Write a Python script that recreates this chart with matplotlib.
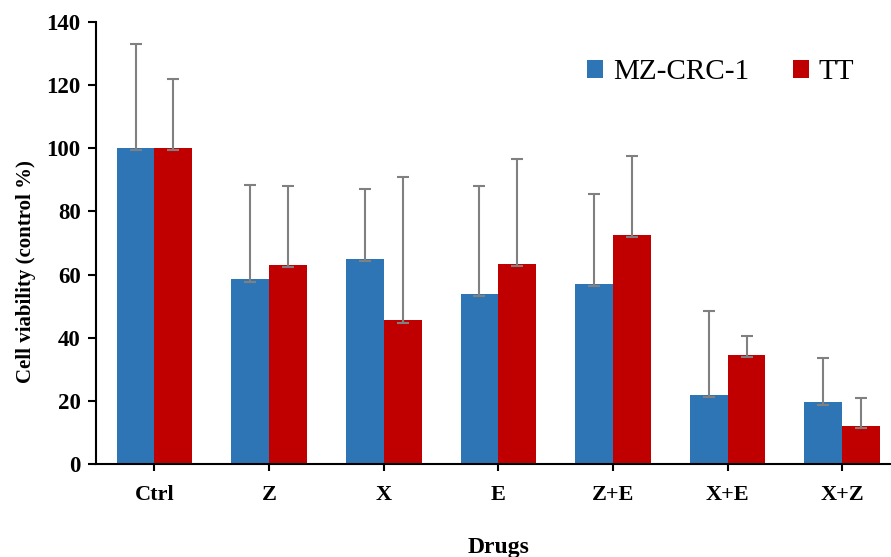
import numpy as np
import matplotlib
matplotlib.use("Agg")
import matplotlib.pyplot as plt

plt.rcParams['font.family'] = ['Liberation Serif', 'DejaVu Serif']

# Данные
drugs = ['Ctrl', 'Z', 'X', 'E', 'Z+E', 'X+E', 'X+Z']
mz_crc1 = [100, 58.5, 65, 54, 57, 22, 19.5]
mz_crc1_top = [133, 88.5, 87, 88, 85.5, 48.5, 33.5]
tt = [100, 63, 45.5, 63.5, 72.5, 34.5, 12]
tt_top = [122, 88, 91, 96.5, 97.5, 40.5, 21]

blue = '#2E75B6'
red = '#C00000'

fig = plt.figure(figsize=(8.91, 5.57), dpi=100)
ax = fig.add_axes([0.1077, 0.167, 0.8923, 0.7935])

x = np.arange(len(drugs))
width = 0.33

err_blue = [np.full(len(drugs), 0.7), np.array(mz_crc1_top) - np.array(mz_crc1)]
err_red = [np.full(len(drugs), 0.7), np.array(tt_top) - np.array(tt)]
ekw = dict(ecolor='#808080', elinewidth=1.5, capsize=4, capthick=1.5)

ax.bar(x - width / 2, mz_crc1, width, color=blue, label='MZ-CRC-1', yerr=err_blue, error_kw=ekw)
ax.bar(x + width / 2, tt, width, color=red, label='TT', yerr=err_red, error_kw=ekw)

ax.set_xlim(-0.51, 6.425)
ax.set_ylim(0, 140)
ax.set_yticks(np.arange(0, 141, 20))
ax.set_xticks(x)
ax.set_xticklabels(drugs, fontsize=16, fontweight='bold')
for lbl in ax.get_yticklabels():
    lbl.set_fontsize(16.5)
    lbl.set_fontweight('bold')

ax.spines['top'].set_visible(False)
ax.spines['right'].set_visible(False)
ax.spines['left'].set_linewidth(1.5)
ax.spines['bottom'].set_linewidth(1.5)
ax.tick_params(axis='y', direction='out', length=6, width=1.5, pad=5)
ax.tick_params(axis='x', direction='out', length=5, width=1.5, pad=10)

ax.set_ylabel('Cell viability (control %)', fontsize=15, fontweight='bold')
ax.yaxis.set_label_coords(-0.075, 0.435)
ax.set_xlabel('Drugs', fontsize=17, fontweight='bold')
ax.xaxis.set_label_coords(0.506, -0.165)

ax.legend(loc='upper right', bbox_to_anchor=(0.987, 0.975), ncol=2, frameon=False,
          fontsize=21, handlelength=0.55, handleheight=0.55, handletextpad=0.35,
          columnspacing=1.5)

plt.savefig('out.png', dpi=100)
plt.close()
